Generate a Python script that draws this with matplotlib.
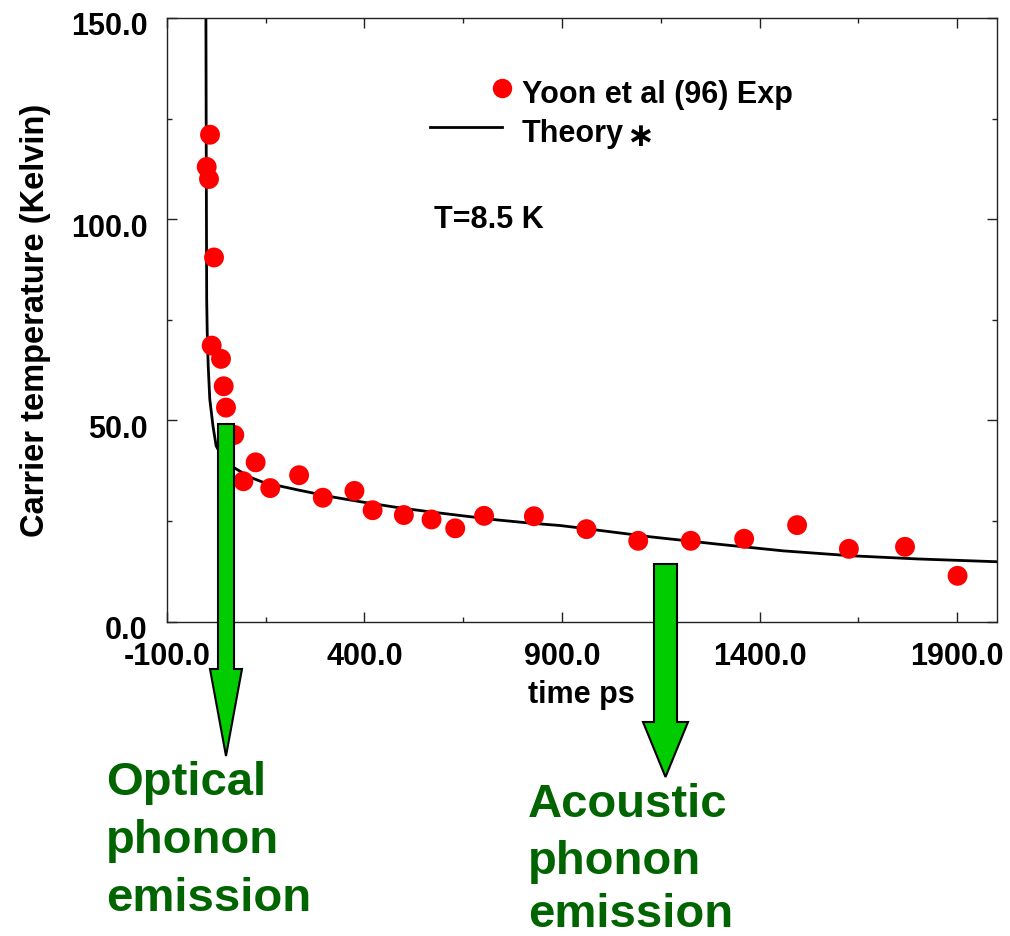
import numpy as np
import matplotlib
matplotlib.use("Agg")
import matplotlib.pyplot as plt
from matplotlib.patches import Polygon
from matplotlib.lines import Line2D
from matplotlib.ticker import FixedLocator, FormatStrFormatter
import matplotlib.transforms as mtransforms

plt.rcParams['font.family'] = ['Liberation Sans', 'DejaVu Sans']
plt.rcParams['font.weight'] = 'bold'

# experimental points (Yoon et al 96)
exp_t = [9.6, 1.2, 7, 19.7, 13.8, 37.4, 44.2, 50, 71, 94, 125, 162, 235, 295,
         375, 421, 500, 570, 630, 703, 829, 962, 1093, 1226, 1361, 1495,
         1626, 1768, 1901]
exp_T = [121, 113, 110, 90.5, 68.6, 65.3, 58.5, 53.2, 46.4, 34.9, 39.6, 33.2,
         36.4, 30.8, 32.5, 27.7, 26.5, 25.4, 23.2, 26.3, 26.2, 23.0, 20.1,
         20.1, 20.6, 24.0, 18.1, 18.6, 11.4]

# theory curve
th_t = [-1, 0, 0.7, 1.2, 2.5, 5, 9, 17, 25, 40, 68, 111, 145, 229, 313, 397,
        482, 566, 650, 735, 819, 895, 954, 1123, 1291, 1460, 1629, 1798, 2000]
th_T = [160, 118, 95, 80, 72, 63.6, 55.3, 48.7, 43.7, 41, 38.4, 35.9, 34.6,
        32.8, 31.1, 29.7, 28.4, 27.3, 26.3, 25.3, 24.5, 23.9, 23.2, 21.1,
        19.3, 17.6, 16.4, 15.6, 14.9]

xticks = [-100, 400, 900, 1400, 1900]
xminor = [150, 650, 1150, 1650]
yticks = [0, 50, 100, 150]
yminor = [25, 75, 125]

W, H = 1010, 937
fig = plt.figure(figsize=(W / 100, H / 100), dpi=100)
ax = fig.add_axes([166.7 / W, 1 - 622.7 / H, 830 / W, 603.7 / H])

ax.plot(th_t, th_T, color='black', lw=2.0, zorder=2)
ax.scatter(exp_t, exp_T, s=205, color='#ff0000', edgecolors='none', zorder=3)

ax.set_xlim(-100, 2000)
ax.set_ylim(0, 150)
ax.xaxis.set_major_locator(FixedLocator(xticks))
ax.xaxis.set_minor_locator(FixedLocator(xminor))
ax.yaxis.set_major_locator(FixedLocator(yticks))
ax.yaxis.set_minor_locator(FixedLocator(yminor))
ax.xaxis.set_major_formatter(FormatStrFormatter('%.1f'))
ax.yaxis.set_major_formatter(FormatStrFormatter('%.1f'))
ax.tick_params(which='both', direction='in', top=True, right=True, width=1, colors='#222222')
ax.tick_params(which='major', length=7.2, labelsize=22, pad=14, labelcolor='black')
ax.tick_params(which='minor', length=3.6)
for s in ax.spines.values():
    s.set_linewidth(1.0)
    s.set_color('#222222')

off = mtransforms.ScaledTranslation(0, -5 / 100, fig.dpi_scale_trans)
for lbl in ax.get_yticklabels():
    lbl.set_transform(lbl.get_transform() + off)

ax.set_xlabel('time ps', fontsize=22, fontweight='bold', labelpad=6)
ax.set_ylabel('Carrier temperature (Kelvin)', fontsize=23.5, fontweight='bold', labelpad=14)


def fx(x):
    return x / W


def fy(y):
    return 1 - y / H


# legend drawn by hand
fig.add_artist(Line2D([fx(502)], [fy(89)], marker='o', markersize=14, color='#ff0000',
                      markeredgewidth=0, transform=fig.transFigure))
fig.text(fx(522), fy(103), 'Yoon et al (96) Exp', fontsize=22, fontweight='bold', va='baseline')
fig.add_artist(Line2D([fx(430), fx(502)], [fy(128), fy(128)], color='black', lw=2.0,
                      transform=fig.transFigure))
fig.text(fx(522), fy(142), 'Theory', fontsize=22, fontweight='bold', va='baseline')
fig.text(fx(640), fy(137), '\u2217', fontsize=24, fontweight='bold', ha='center', va='center',
         family=['DejaVu Sans'])
fig.text(fx(434), fy(228), 'T=8.5 K', fontsize=22, fontweight='bold', va='baseline')


def arrow(x0, x1, top, base, hx0, hx1, tip):
    cx = (hx0 + hx1) / 2
    pts = [(x0, top), (x1, top), (x1, base), (hx1, base), (cx, tip),
           (hx0, base), (x0, base)]
    return Polygon([(fx(a), fy(b)) for a, b in pts], closed=True, transform=fig.transFigure,
                   facecolor='#00cc00', edgecolor='black', lw=1.5, zorder=5)


fig.add_artist(arrow(218, 234, 425, 670, 210, 242, 757))
fig.add_artist(arrow(654, 677, 565, 723, 643, 688, 778))

green = '#006400'
fig.text(fx(106), fy(795), 'Optical', fontsize=34, fontweight='bold', color=green, va='baseline')
fig.text(fx(106), fy(853), 'phonon', fontsize=34, fontweight='bold', color=green, va='baseline')
fig.text(fx(106), fy(911), 'emission', fontsize=34, fontweight='bold', color=green, va='baseline')
fig.text(fx(528), fy(817), 'Acoustic', fontsize=34, fontweight='bold', color=green, va='baseline')
fig.text(fx(528), fy(874), 'phonon', fontsize=34, fontweight='bold', color=green, va='baseline')
fig.text(fx(528), fy(927), 'emission', fontsize=34, fontweight='bold', color=green, va='baseline')

fig.savefig('out.png', dpi=100)
